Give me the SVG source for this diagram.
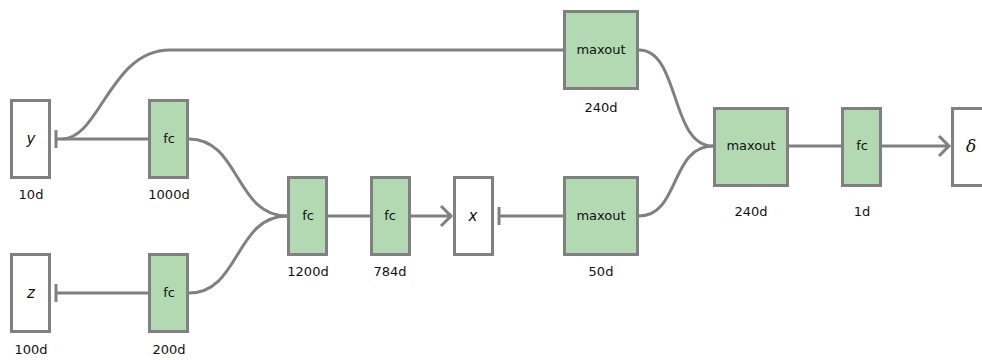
<svg xmlns="http://www.w3.org/2000/svg" width="982" height="360" viewBox="0 0 982 360">
<defs>
<style>
.n{fill:#b3d9b3;stroke:#808080;stroke-width:3}
.w{fill:#ffffff;stroke:#808080;stroke-width:3}
.c{fill:none;stroke:#808080;stroke-width:3}
.t{font-family:"DejaVu Sans",sans-serif;font-size:13px;fill:#111;text-anchor:middle}
.v{font-family:"DejaVu Sans",sans-serif;font-size:15px;font-style:italic;fill:#111;text-anchor:middle}
.d{font-family:"DejaVu Serif",serif;font-size:17px;font-style:italic;fill:#111;text-anchor:middle}
</style>
</defs>
<rect width="982" height="360" fill="#ffffff"/>
<g id="connectors">
<path class="c" d="M148,139 H56 M56,130 V148"/>
<path class="c" d="M148,293 H56 M56,284 V302"/>
<path class="c" d="M62,139 C100,139 110,50 170,50 H563"/>
<path class="c" d="M189,139 C240,139 235,216 287,216"/>
<path class="c" d="M189,293 C240,293 235,216 287,216"/>
<path class="c" d="M328,216 H370"/>
<path class="c" d="M410,216 H451 M441,206 L451,216 L441,226"/>
<path class="c" d="M563,216 H499 M499,207 V225"/>
<path class="c" d="M639,216 C680,216 670,146 713,146"/>
<path class="c" d="M639,50 C680,50 670,146 713,146"/>
<path class="c" d="M788,146 H841"/>
<path class="c" d="M882,146 H949 M939,136 L949,146 L939,156"/>
</g>
<g id="y"><rect class="w" x="11.5" y="100.5" width="38" height="77"/><text class="v" x="31" y="144">y</text><text class="t" x="31" y="199">10d</text></g>
<g id="fc1000"><rect class="n" x="149.5" y="100.5" width="38" height="77"/><text class="t" x="169" y="143">fc</text><text class="t" x="169" y="199">1000d</text></g>
<g id="z"><rect class="w" x="11.5" y="254.5" width="38" height="77"/><text class="v" x="31" y="298">z</text><text class="t" x="31" y="354">100d</text></g>
<g id="fc200"><rect class="n" x="149.5" y="254.5" width="38" height="77"/><text class="t" x="169" y="297">fc</text><text class="t" x="169" y="354">200d</text></g>
<g id="fc1200"><rect class="n" x="288.5" y="177.5" width="38" height="77"/><text class="t" x="308" y="220">fc</text><text class="t" x="308" y="276">1200d</text></g>
<g id="fc784"><rect class="n" x="371.5" y="177.5" width="38" height="77"/><text class="t" x="390" y="220">fc</text><text class="t" x="390" y="276">784d</text></g>
<g id="x"><rect class="w" x="454.5" y="177.5" width="38" height="77"/><text class="v" x="473" y="221">x</text></g>
<g id="maxout50"><rect class="n" x="564.5" y="177.5" width="73" height="77"/><text class="t" x="601" y="220">maxout</text><text class="t" x="601" y="276">50d</text></g>
<g id="maxout240a"><rect class="n" x="564.5" y="11.5" width="73" height="77"/><text class="t" x="601" y="54">maxout</text><text class="t" x="601" y="112">240d</text></g>
<g id="maxout240b"><rect class="n" x="714.5" y="108.5" width="73" height="77"/><text class="t" x="751" y="150">maxout</text><text class="t" x="751" y="216">240d</text></g>
<g id="fc1"><rect class="n" x="842.5" y="108.5" width="38" height="77"/><text class="t" x="862" y="150">fc</text><text class="t" x="862" y="216">1d</text></g>
<g id="delta"><rect class="w" x="952.5" y="108.5" width="38" height="77"/><text class="d" x="971" y="152">δ</text></g>
</svg>
